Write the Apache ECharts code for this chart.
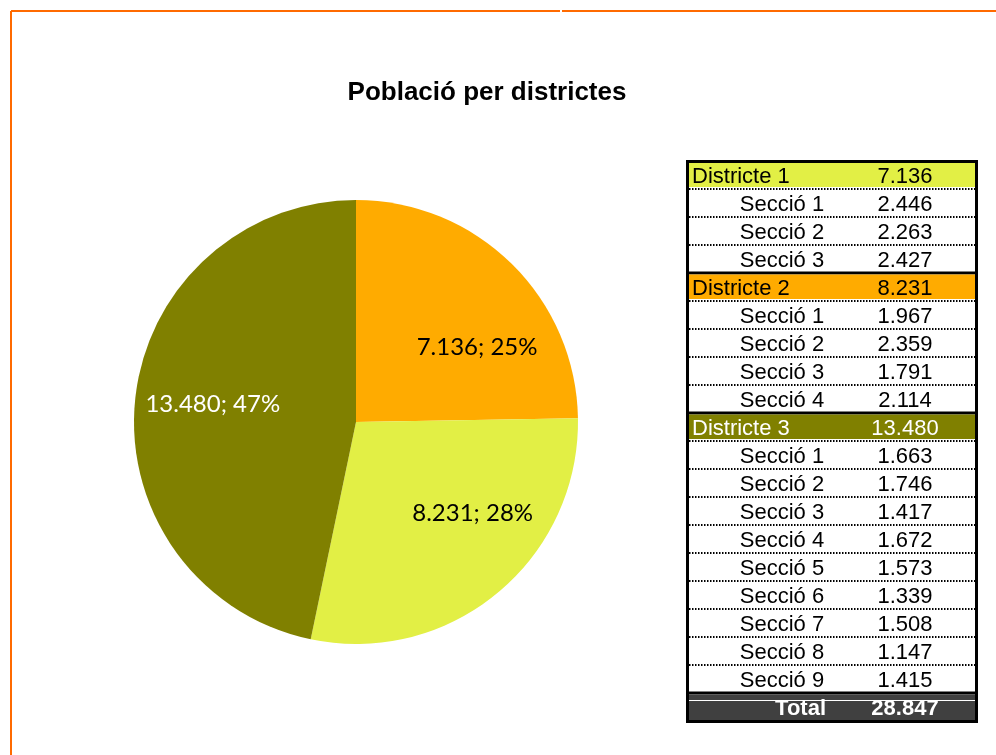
<!DOCTYPE html>
<html>
<head>
<meta charset="utf-8">
<script src="https://cdn.jsdelivr.net/npm/echarts@6/dist/echarts.min.js"></script>
<style>
  html, body { margin: 0; padding: 0; background: #fff; }
  #chart { width: 996px; height: 755px; }
</style>
</head>
<body>
<div id="chart"></div>
<script>
// data
const districts = ['Districte 1', 'Districte 2', 'Districte 3']
const districtTotals = [7136, 8231, 13480]
const sectionValues = [
  [2446, 2263, 2427],
  [1967, 2359, 1791, 2114],
  [1663, 1746, 1417, 1672, 1573, 1339, 1508, 1147, 1415]
]
const grandTotal = 28847

const pieColors = ['#FFAB00', '#E2EF45', '#808000']
const tableColors = ['#E2EF45', '#FFAB00', '#808000']
const tableTextColors = ['#000', '#000', '#fff']
const pieLabelColors = ['#000', '#000', '#fff']
// excel nudges its data labels off the mid angle
const pieLabelShift = [[18, 30], [23, -22], [3, -3]]

const fmt = v => String(v).replace(/\B(?=(\d{3})+(?!\d))/g, '.')

const chart = echarts.init(document.getElementById('chart'))

// table built from the arrays above
const rowH = 28
const top0 = 161
const tLeft = 689
const tRight = 975
const tableFont = '22px "Liberation Sans", Arial, sans-serif'
const graphics = []

// orange frame
graphics.push(
  { type: 'line', shape: { x1: 11, y1: 11, x2: 560, y2: 11 }, style: { stroke: '#FF6A00', lineWidth: 2 } },
  { type: 'line', shape: { x1: 562, y1: 11, x2: 996, y2: 11 }, style: { stroke: '#FF6A00', lineWidth: 2 } },
  { type: 'line', shape: { x1: 11, y1: 11, x2: 11, y2: 755 }, style: { stroke: '#FF6A00', lineWidth: 2 } }
)

let row = 0
districts.forEach((d, i) => {
  const y = top0 + row * rowH
  if (row > 0) {
    graphics.push({ type: 'line', shape: { x1: tLeft, y1: y, x2: tRight, y2: y }, style: { stroke: '#000', lineWidth: 3 } })
  }
  graphics.push({
    type: 'rect', shape: { x: tLeft, y: y + (row > 0 ? 1.5 : 0), width: tRight - tLeft, height: rowH - (row > 0 ? 1.5 : 0) - 2 },
    style: { fill: tableColors[i] }
  })
  graphics.push({ type: 'text', x: 692, y: y + 16, style: { text: d, font: tableFont, fill: tableTextColors[i], textAlign: 'left', textVerticalAlign: 'middle' } })
  graphics.push({ type: 'text', x: 905, y: y + 16, style: { text: fmt(districtTotals[i]), font: tableFont, fill: tableTextColors[i], textAlign: 'center', textVerticalAlign: 'middle' } })
  row++
  sectionValues[i].forEach((v, j) => {
    const ys = top0 + row * rowH
    graphics.push({ type: 'line', shape: { x1: tLeft, y1: ys, x2: tRight, y2: ys }, style: { stroke: '#000', lineWidth: 2, lineDash: [1.5, 1.5] } })
    graphics.push({ type: 'text', x: 782, y: ys + 16, style: { text: 'Secció ' + (j + 1), font: tableFont, fill: '#000', textAlign: 'center', textVerticalAlign: 'middle' } })
    graphics.push({ type: 'text', x: 905, y: ys + 16, style: { text: fmt(v), font: tableFont, fill: '#000', textAlign: 'center', textVerticalAlign: 'middle' } })
    row++
  })
})

// total row
const yt = top0 + row * rowH
graphics.push({ type: 'line', shape: { x1: tLeft, y1: yt, x2: tRight, y2: yt }, style: { stroke: '#000', lineWidth: 3 } })
graphics.push({ type: 'rect', shape: { x: tLeft, y: yt + 1.5, width: tRight - tLeft, height: rowH - 1.5 }, style: { fill: '#404040' } })
graphics.push({ type: 'line', shape: { x1: tLeft, y1: yt + 7.5, x2: tRight, y2: yt + 7.5 }, style: { stroke: '#fff', lineWidth: 1 } })
graphics.push({ type: 'text', x: 826, y: yt + 16, style: { text: 'Total', font: 'bold ' + tableFont, fill: '#fff', textAlign: 'right', textVerticalAlign: 'middle' } })
graphics.push({ type: 'text', x: 905, y: yt + 16, style: { text: fmt(grandTotal), font: 'bold ' + tableFont, fill: '#fff', textAlign: 'center', textVerticalAlign: 'middle' } })

// outer border
graphics.push({ type: 'rect', shape: { x: 687.5, y: 161.5, width: 289, height: 560 }, style: { fill: 'none', stroke: '#000', lineWidth: 3 } })

const pieData = districts.map((d, i) => ({
  name: d,
  value: districtTotals[i],
  itemStyle: { color: pieColors[i] }
}))

chart.setOption({
  animation: false,
  title: {
    text: 'Població per districtes',
    left: 482,
    top: 75,
    textAlign: 'center',
    textStyle: { fontFamily: '"Liberation Sans", Arial, sans-serif', fontSize: 26, fontWeight: 'bold', color: '#000' }
  },
  graphic: graphics,
  series: [
    {
      type: 'pie',
      center: [356, 422],
      radius: 222,
      startAngle: 90,
      clockwise: true,
      silent: true,
      itemStyle: { borderWidth: 0 },
      label: { show: false },
      labelLine: { show: false },
      data: pieData
    },
    {
      // label carrier, same slices, labels sit farther out than mid radius
      type: 'pie',
      center: [356, 422],
      radius: [66, 222],
      startAngle: 90,
      clockwise: true,
      silent: true,
      percentPrecision: 0,
      itemStyle: { color: 'transparent', borderWidth: 0 },
      label: {
        show: true,
        position: 'inside',
        fontFamily: 'Lato, "Open Sans", sans-serif',
        fontSize: 24,
        formatter: p => fmt(p.value) + '; ' + p.percent + '%'
      },
      labelLine: { show: false },
      labelLayout: p => ({ dx: pieLabelShift[p.dataIndex][0], dy: pieLabelShift[p.dataIndex][1] }),
      data: districts.map((d, i) => ({
        name: d,
        value: districtTotals[i],
        itemStyle: { color: 'transparent' },
        label: { color: pieLabelColors[i] }
      }))
    }
  ]
})
</script>
</body>
</html>
